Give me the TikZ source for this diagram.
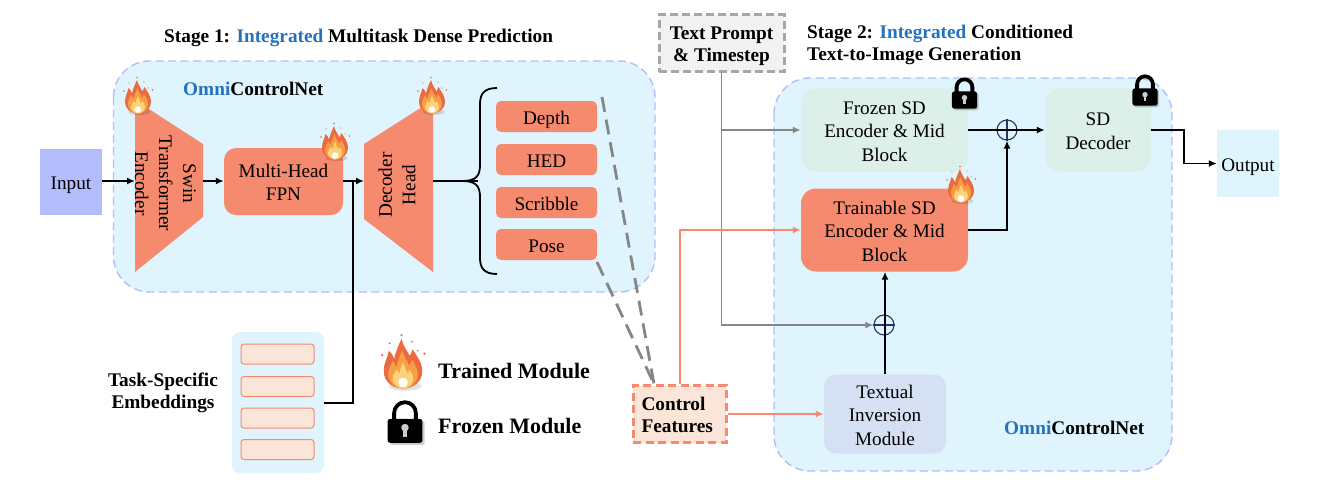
\documentclass[tikz,border=0pt]{standalone}
\usepackage{fontspec}
\setmainfont{Liberation Serif}
\usetikzlibrary{arrows.meta}
\definecolor{panel}{HTML}{DFF4FD}
\definecolor{panelline}{HTML}{B3BDF8}
\definecolor{salmon}{HTML}{F58A6E}
\definecolor{inputblue}{HTML}{B4BDFC}
\definecolor{frozen}{HTML}{DCEFE9}
\definecolor{peach}{HTML}{FBE5D8}
\definecolor{omni}{HTML}{2472BC}
\definecolor{navy}{HTML}{1F3864}
\definecolor{greyline}{HTML}{868686}
\definecolor{inversion}{HTML}{D6E0F3}
\definecolor{flameA}{HTML}{EC6A40}
\definecolor{flameB}{HTML}{F89F45}
\definecolor{flameC}{HTML}{FCD27A}
\newcommand\dn[1]{\raisebox{-8pt}[0pt][0pt]{\begin{tabular}{@{}c@{}}#1\end{tabular}}}
\newcommand\dnl[1]{\raisebox{-8pt}[0pt][0pt]{\begin{tabular}{@{}l@{}}#1\end{tabular}}}
\tikzset{
  panelbox/.style={draw=panelline,fill=panel,line width=1.4pt,dash pattern=on 8pt off 4.5pt,rounded corners=36pt},
  lbl/.style={inner sep=0pt,font=\fontsize{19.2}{23.5}\selectfont,align=center,text=black},
  boldlbl/.style={inner sep=0pt,font=\fontsize{19.3}{22.5}\selectfont\bfseries,align=left,text=black},
  salmonbox/.style={lbl,fill=salmon,rounded corners=5pt},
  arrow/.style={draw=black,line width=1.8pt,-{Latex[length=8pt,width=7pt]}},
  plainline/.style={draw=black,line width=1.8pt},
  greyarrow/.style={draw=greyline,line width=1.8pt,-{Latex[length=8pt,width=7pt]}},
  salmonarrow/.style={draw=salmon,line width=1.8pt,-{Latex[length=8pt,width=7pt]}},
  greydash/.style={draw=greyline,line width=2.8pt,dash pattern=on 15pt off 8pt},
  plusnode/.style={circle,draw=navy,line width=1.1pt,minimum size=20pt,inner sep=0pt},
  flameicon/.pic={
    \fill[black,opacity=.12] (1.5,15) ellipse (11 and 3);
    \fill[flameA] (0,16.5) .. controls (-8,16.5) and (-13,11) .. (-13,5) .. controls (-13,-1) and (-10.5,-4) .. (-9.5,-9) .. controls (-7.5,-7) and (-6.5,-5.5) .. (-6,-3.5) .. controls (-5,-8) and (-3,-13) .. (-1,-17) .. controls (0,-12) and (3,-9) .. (4.5,-5.5) .. controls (5.5,-7) and (6,-8) .. (6.5,-10) .. controls (9.5,-5) and (13,-1) .. (13,5) .. controls (13,11) and (8,16.5) .. (0,16.5) -- cycle;
    \fill[flameB] (0,16.5) .. controls (-6,16.5) and (-10,12) .. (-10,7) .. controls (-10,3) and (-8,1) .. (-7,-2) .. controls (-5.5,0) and (-5,1) .. (-4.5,2) .. controls (-3.5,-2) and (-2,-6) .. (-.5,-9) .. controls (0.5,-5) and (3,-2) .. (4,1) .. controls (5,0) and (5.5,-1) .. (6,-3) .. controls (8,0) and (10,3) .. (10,7) .. controls (10,12) and (6,16.5) .. (0,16.5) -- cycle;
    \fill[flameC] (0,16.5) .. controls (-4,16.5) and (-7,13) .. (-7,10) .. controls (-7,7) and (-5,5) .. (-4,3.5) .. controls (-3.5,5) and (-3,6) .. (-2.5,6.5) .. controls (-2,3.5) and (-1,1) .. (0,-1) .. controls (1,2) and (2.5,4) .. (3,6.5) .. controls (3.5,6) and (4,5) .. (4.5,4) .. controls (6,6) and (7,8) .. (7,10) .. controls (7,13) and (4,16.5) .. (0,16.5) -- cycle;
    \fill[white,opacity=.95] (0,12.5) circle (3.3);
    \fill[flameA] (-14,-6) circle (.9) (-9,-14) circle (.7) (-1,-19.5) circle (.8) (6,-15) circle (.7) (14.5,-7) circle (.9) (10,-9) circle (.6);
  },
  lockicon/.pic={
    \fill[black,opacity=.2,rounded corners=2.5pt] (-10.5,-1) rectangle (13.5,15.5);
    \draw[black,line width=3.8pt] (-7.5,0) -- (-7.5,-6.5) arc[start angle=180,end angle=360,radius=7.5] -- (7.5,0);
    \fill[black,rounded corners=2.5pt] (-12,-2.5) rectangle (12,14);
    \fill[white!80!black] (0,3.5) circle (2.6);
    \fill[white!80!black] (-1.4,4) rectangle (1.4,9.8);
  },
}
\begin{document}
\begin{tikzpicture}[x=1pt,y=-1pt]
\useasboundingbox (0,0) rectangle (1333,483);
% containers
\path[panelbox] (113.5,61) rectangle (655,292);
\path[panelbox] (774,78) rectangle (1172,471);
% titles
\node[boldlbl,anchor=west] (title1) at (164,38) {Stage 1: \textcolor{omni}{Integrated} Multitask Dense Prediction};
\node[boldlbl,anchor=west] (title2) at (807,42) {\dnl{Stage 2: \textcolor{omni}{Integrated} Conditioned\\Text-to-Image Generation}};
\node[boldlbl,anchor=west] (omni1) at (183,89) {\textcolor{omni}{Omni}ControlNet};
\node[boldlbl,anchor=west] (omni2) at (1004,428) {\textcolor{omni}{Omni}ControlNet};
% input/output
\node[lbl,fill=inputblue,minimum width=62pt,minimum height=66pt] (input) at (71,182) {\dn{Input}};
\node[lbl,fill=panel,minimum width=62pt,minimum height=67pt] (output) at (1248,163.5) {\dn{Output}};
% trapezoids
\fill[salmon] (135,100) -- (203,144) -- (203,217) -- (135,272) -- cycle;
\fill[salmon] (364,144) -- (433,100) -- (433,272) -- (364,219) -- cycle;
\node[lbl,rotate=-90,font=\fontsize{19.2}{24}\selectfont] (enc) at (165.5,183.5) {Swin\\Transformer\\Encoder};
\node[lbl,rotate=90] (dec) at (397,185) {Decoder\\Head};
\coordinate (encin) at (135,181);
\coordinate (encout) at (203,181);
\coordinate (decin) at (364,181);
\coordinate (decout) at (433,181);
% FPN
\node[lbl,fill=salmon,rounded corners=12pt,minimum width=119pt,minimum height=67pt] (fpn) at (283.5,181.5) {\dn{Multi-Head\\FPN}};
% Task heads
\node[salmonbox,minimum width=101pt,minimum height=31pt] (depth) at (546.5,116.5) {\dn{Depth}};
\node[salmonbox,minimum width=101pt,minimum height=31pt] (hed) at (546.5,159.5) {\dn{HED}};
\node[salmonbox,minimum width=101pt,minimum height=31pt] (scribble) at (546.5,202.5) {\dn{Scribble}};
\node[salmonbox,minimum width=101pt,minimum height=31pt] (pose) at (546.5,244.5) {\dn{Pose}};
% brace
\coordinate (bracetip) at (478,181);
\draw[plainline] (decout) -- (bracetip);
\draw[plainline] (497,88) .. controls (484,88) and (480,94) .. (480,104) -- (480,165) .. controls (480,176) and (476,181) .. (462,181) .. controls (476,181) and (480,186) .. (480,197) -- (480,258) .. controls (480,268) and (484,274) .. (497,274);
% embeddings
\node[lbl,fill=panel,rounded corners=8pt,minimum width=92pt,minimum height=141pt] (emb) at (278,402.5) {};
\foreach \n/\y in {e1/354,e2/386.5,e3/418,e4/449.5}{
  \node[draw=salmon,fill=peach,line width=1pt,rounded corners=3pt,minimum width=73pt,minimum height=20pt,inner sep=0pt] (\n) at (277.5,\y) {};
}
\node[boldlbl] (tasklbl) at (163,390) {\dn{Task-Specific\\Embeddings}};
% connectors left
\draw[arrow] (input.east |- encin) -- (encin);
\draw[arrow] (encout) -- (fpn.west |- encout);
\draw[arrow] (fpn.east |- decin) -- (decin);
\draw[plainline] (emb.east |- 0,403) -| (353,181);
% legend
\node[boldlbl,anchor=west,font=\fontsize{22}{24}\selectfont\bfseries] (trained) at (438,371) {Trained Module};
\node[boldlbl,anchor=west,font=\fontsize{22}{24}\selectfont\bfseries] (frozenlbl) at (438,426) {Frozen Module};
\pic[scale=1.48] (legendflame) at (403,364) {flameicon};
\pic[scale=1.45] (legendlock) at (405,422.5) {lockicon};
% prompt
\node[boldlbl,draw=black!35,fill=black!5,line width=3pt,dash pattern=on 8pt off 4pt,minimum width=125pt,minimum height=57pt] (prompt) at (721.5,43) {\dn{Text Prompt\\\& Timestep}};
% SD blocks
\node[lbl,fill=frozen,rounded corners=15pt,minimum width=167pt,minimum height=83pt] (frozenenc) at (884.5,130) {\dn{Frozen SD\\Encoder \& Mid\\Block}};
\node[lbl,fill=salmon,rounded corners=15pt,minimum width=167pt,minimum height=83pt] (train) at (884.5,230) {\dn{Trainable SD\\Encoder \& Mid\\Block}};
\node[lbl,fill=frozen,rounded corners=15pt,minimum width=106pt,minimum height=83pt] (sddec) at (1098,130) {\dn{SD\\Decoder}};
\node[lbl,fill=inversion,rounded corners=12pt,minimum width=122pt,minimum height=79pt] (invert) at (885,414) {\dn{Textual\\Inversion\\Module}};
\node[plusnode] (plusa) at (1007,130) {};
\node[plusnode] (plusb) at (884,325) {};
\draw[navy,line width=1.1pt] (plusa.north) -- (plusa.south) (plusb.west) -- (plusb.east);
% connectors right
\draw[greyarrow] (prompt.south) -- (721.5,325) -- (plusb.west);
\coordinate (branch) at (721.5,130);
\draw[greyarrow] (branch) -- (frozenenc.west);
\draw[arrow] (frozenenc.east) -- (sddec.west);
\draw[arrow] (train.east) -| (plusa.south);
\draw[arrow] (invert.north) -- (train.south -| invert.north);
\draw[arrow] (sddec.east) -- (1184,130) -- (1184,163.5) -- (output.west);
% control features
\node[boldlbl,draw=salmon,fill=peach,line width=3pt,dash pattern=on 8pt off 4.5pt,minimum width=93pt,minimum height=57pt,text width=76pt] (control) at (679.5,414) {\dnl{Control\\Features}};
\draw[salmonarrow] (control.north -| 680,0) -- (680,230) -- (train.west);
\draw[salmonarrow] (control.east) -- (invert.west);
\coordinate (depthcorner) at (602,97);
\coordinate (posecorner) at (597,262);
\draw[greydash] (depthcorner) -- (control.north -| 654,0);
\draw[greydash] (posecorner) -- (control.north -| 654,0);
% icons
\pic (f1) at (138,97) {flameicon};
\pic (f2) at (432,97) {flameicon};
\pic (f3) at (335,143) {flameicon};
\pic (f4) at (961,186) {flameicon};
\pic[scale=1.05] (l1) at (964.5,94) {lockicon};
\pic[scale=1.05] (l2) at (1145,91) {lockicon};
\end{tikzpicture}
\end{document}
